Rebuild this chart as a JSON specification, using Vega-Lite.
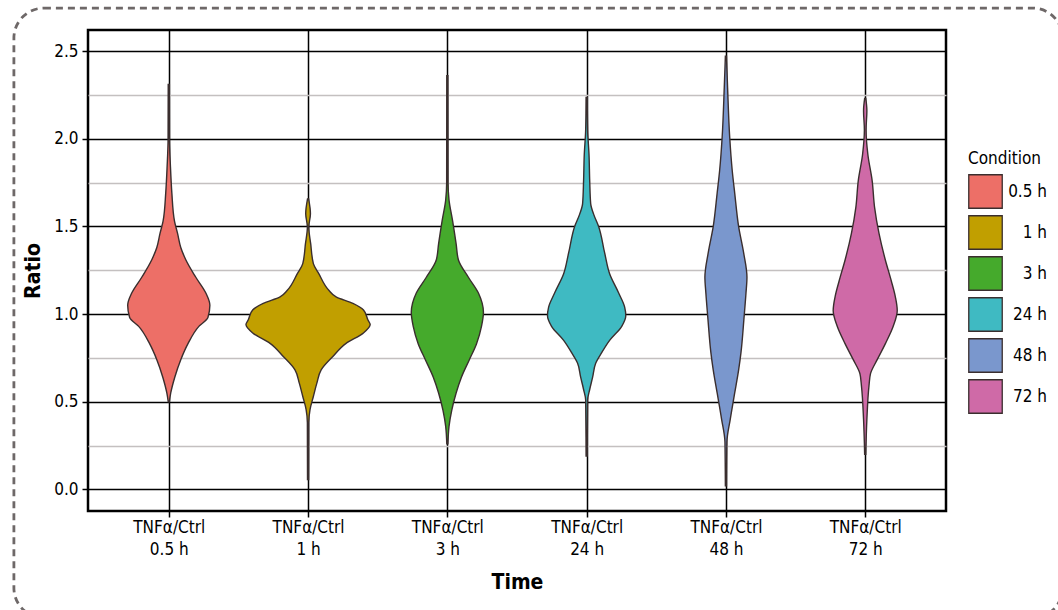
{
  "$schema": "https://vega.github.io/schema/vega-lite/v6.json",
  "width": 858,
  "height": 481,
  "autosize": "none",
  "padding": {"left": 88, "top": 30, "right": 112, "bottom": 99},
  "background": "white",
  "config": {
    "font": "DejaVu Sans Condensed, Roboto, sans-serif",
    "view": {"stroke": "black", "strokeWidth": 2.5},
    "axis": {"labelFont": "DejaVu Sans Condensed, Roboto, sans-serif", "titleFont": "DejaVu Sans Condensed, Roboto, sans-serif", "labelColor": "black", "titleColor": "black", "domain": false, "tickColor": "black", "tickWidth": 1.5},
    "legend": {"labelFont": "DejaVu Sans Condensed, Roboto, sans-serif", "titleFont": "DejaVu Sans Condensed, Roboto, sans-serif"}
  },
  "datasets": {
    "violins": [
      {"Condition": "0.5 h", "Ratio": 0.50, "density": 0.004},
      {"Condition": "0.5 h", "Ratio": 0.55, "density": 0.014},
      {"Condition": "0.5 h", "Ratio": 0.64, "density": 0.043},
      {"Condition": "0.5 h", "Ratio": 0.74, "density": 0.086},
      {"Condition": "0.5 h", "Ratio": 0.83, "density": 0.137},
      {"Condition": "0.5 h", "Ratio": 0.93, "density": 0.216},
      {"Condition": "0.5 h", "Ratio": 0.98, "density": 0.281},
      {"Condition": "0.5 h", "Ratio": 1.05, "density": 0.295},
      {"Condition": "0.5 h", "Ratio": 1.12, "density": 0.266},
      {"Condition": "0.5 h", "Ratio": 1.21, "density": 0.194},
      {"Condition": "0.5 h", "Ratio": 1.31, "density": 0.122},
      {"Condition": "0.5 h", "Ratio": 1.38, "density": 0.086},
      {"Condition": "0.5 h", "Ratio": 1.46, "density": 0.063},
      {"Condition": "0.5 h", "Ratio": 1.53, "density": 0.041},
      {"Condition": "0.5 h", "Ratio": 1.69, "density": 0.022},
      {"Condition": "0.5 h", "Ratio": 1.84, "density": 0.012},
      {"Condition": "0.5 h", "Ratio": 2.00, "density": 0.005},
      {"Condition": "0.5 h", "Ratio": 2.31, "density": 0.004},

      {"Condition": "1 h", "Ratio": 0.057, "density": 0.004},
      {"Condition": "1 h", "Ratio": 0.38, "density": 0.005},
      {"Condition": "1 h", "Ratio": 0.455, "density": 0.014},
      {"Condition": "1 h", "Ratio": 0.53, "density": 0.038},
      {"Condition": "1 h", "Ratio": 0.606, "density": 0.063},
      {"Condition": "1 h", "Ratio": 0.682, "density": 0.094},
      {"Condition": "1 h", "Ratio": 0.758, "density": 0.178},
      {"Condition": "1 h", "Ratio": 0.833, "density": 0.273},
      {"Condition": "1 h", "Ratio": 0.89, "density": 0.394},
      {"Condition": "1 h", "Ratio": 0.94, "density": 0.446},
      {"Condition": "1 h", "Ratio": 0.966, "density": 0.43},
      {"Condition": "1 h", "Ratio": 1.023, "density": 0.398},
      {"Condition": "1 h", "Ratio": 1.061, "density": 0.322},
      {"Condition": "1 h", "Ratio": 1.098, "density": 0.201},
      {"Condition": "1 h", "Ratio": 1.136, "density": 0.149},
      {"Condition": "1 h", "Ratio": 1.231, "density": 0.077},
      {"Condition": "1 h", "Ratio": 1.288, "density": 0.038},
      {"Condition": "1 h", "Ratio": 1.40, "density": 0.019},
      {"Condition": "1 h", "Ratio": 1.496, "density": 0.005},
      {"Condition": "1 h", "Ratio": 1.572, "density": 0.017},
      {"Condition": "1 h", "Ratio": 1.657, "density": 0.004},

      {"Condition": "3 h", "Ratio": 0.26, "density": 0.004},
      {"Condition": "3 h", "Ratio": 0.36, "density": 0.012},
      {"Condition": "3 h", "Ratio": 0.45, "density": 0.031},
      {"Condition": "3 h", "Ratio": 0.55, "density": 0.063},
      {"Condition": "3 h", "Ratio": 0.64, "density": 0.101},
      {"Condition": "3 h", "Ratio": 0.74, "density": 0.158},
      {"Condition": "3 h", "Ratio": 0.83, "density": 0.209},
      {"Condition": "3 h", "Ratio": 0.93, "density": 0.245},
      {"Condition": "3 h", "Ratio": 1.01, "density": 0.259},
      {"Condition": "3 h", "Ratio": 1.12, "density": 0.223},
      {"Condition": "3 h", "Ratio": 1.21, "density": 0.151},
      {"Condition": "3 h", "Ratio": 1.31, "density": 0.079},
      {"Condition": "3 h", "Ratio": 1.40, "density": 0.063},
      {"Condition": "3 h", "Ratio": 1.53, "density": 0.038},
      {"Condition": "3 h", "Ratio": 1.65, "density": 0.012},
      {"Condition": "3 h", "Ratio": 1.75, "density": 0.005},
      {"Condition": "3 h", "Ratio": 2.36, "density": 0.004},

      {"Condition": "24 h", "Ratio": 0.19, "density": 0.004},
      {"Condition": "24 h", "Ratio": 0.51, "density": 0.007},
      {"Condition": "24 h", "Ratio": 0.57, "density": 0.022},
      {"Condition": "24 h", "Ratio": 0.64, "density": 0.043},
      {"Condition": "24 h", "Ratio": 0.72, "density": 0.065},
      {"Condition": "24 h", "Ratio": 0.78, "density": 0.108},
      {"Condition": "24 h", "Ratio": 0.85, "density": 0.165},
      {"Condition": "24 h", "Ratio": 0.93, "density": 0.252},
      {"Condition": "24 h", "Ratio": 0.99, "density": 0.281},
      {"Condition": "24 h", "Ratio": 1.04, "density": 0.273},
      {"Condition": "24 h", "Ratio": 1.12, "density": 0.23},
      {"Condition": "24 h", "Ratio": 1.23, "density": 0.165},
      {"Condition": "24 h", "Ratio": 1.35, "density": 0.129},
      {"Condition": "24 h", "Ratio": 1.50, "density": 0.086},
      {"Condition": "24 h", "Ratio": 1.57, "density": 0.05},
      {"Condition": "24 h", "Ratio": 1.63, "density": 0.029},
      {"Condition": "24 h", "Ratio": 1.76, "density": 0.022},
      {"Condition": "24 h", "Ratio": 1.91, "density": 0.017},
      {"Condition": "24 h", "Ratio": 2.05, "density": 0.007},
      {"Condition": "24 h", "Ratio": 2.235, "density": 0.004},

      {"Condition": "48 h", "Ratio": 0.02, "density": 0.004},
      {"Condition": "48 h", "Ratio": 0.27, "density": 0.007},
      {"Condition": "48 h", "Ratio": 0.40, "density": 0.031},
      {"Condition": "48 h", "Ratio": 0.55, "density": 0.063},
      {"Condition": "48 h", "Ratio": 0.68, "density": 0.091},
      {"Condition": "48 h", "Ratio": 0.78, "density": 0.108},
      {"Condition": "48 h", "Ratio": 0.97, "density": 0.129},
      {"Condition": "48 h", "Ratio": 1.12, "density": 0.144},
      {"Condition": "48 h", "Ratio": 1.21, "density": 0.151},
      {"Condition": "48 h", "Ratio": 1.35, "density": 0.127},
      {"Condition": "48 h", "Ratio": 1.50, "density": 0.091},
      {"Condition": "48 h", "Ratio": 1.69, "density": 0.063},
      {"Condition": "48 h", "Ratio": 1.82, "density": 0.045},
      {"Condition": "48 h", "Ratio": 2.01, "density": 0.027},
      {"Condition": "48 h", "Ratio": 2.29, "density": 0.012},
      {"Condition": "48 h", "Ratio": 2.47, "density": 0.004},

      {"Condition": "72 h", "Ratio": 0.20, "density": 0.004},
      {"Condition": "72 h", "Ratio": 0.40, "density": 0.012},
      {"Condition": "72 h", "Ratio": 0.59, "density": 0.027},
      {"Condition": "72 h", "Ratio": 0.66, "density": 0.038},
      {"Condition": "72 h", "Ratio": 0.74, "density": 0.086},
      {"Condition": "72 h", "Ratio": 0.83, "density": 0.144},
      {"Condition": "72 h", "Ratio": 0.93, "density": 0.201},
      {"Condition": "72 h", "Ratio": 1.02, "density": 0.23},
      {"Condition": "72 h", "Ratio": 1.10, "density": 0.216},
      {"Condition": "72 h", "Ratio": 1.19, "density": 0.187},
      {"Condition": "72 h", "Ratio": 1.31, "density": 0.144},
      {"Condition": "72 h", "Ratio": 1.46, "density": 0.099},
      {"Condition": "72 h", "Ratio": 1.61, "density": 0.067},
      {"Condition": "72 h", "Ratio": 1.76, "density": 0.05},
      {"Condition": "72 h", "Ratio": 1.91, "density": 0.019},
      {"Condition": "72 h", "Ratio": 2.05, "density": 0.006},
      {"Condition": "72 h", "Ratio": 2.16, "density": 0.012},
      {"Condition": "72 h", "Ratio": 2.23, "density": 0.004}
    ]
  },
  "layer": [
    {
      "data": {"name": "violins"},
      "transform": [
        {"calculate": "indexof(['0.5 h','1 h','3 h','24 h','48 h','72 h'], datum.Condition) + 1", "as": "center"},
        {"calculate": "datum.center - datum.density", "as": "lo"},
        {"calculate": "datum.center + datum.density", "as": "hi"}
      ],
      "mark": {"type": "area", "orient": "horizontal", "interpolate": "monotone", "stroke": "#3a2e2e", "strokeWidth": 1.4, "fillOpacity": 1},
      "encoding": {
        "y": {
          "field": "Ratio", "type": "quantitative",
          "scale": {"domain": [-0.123, 2.62], "nice": false, "zero": false},
          "axis": {
            "title": "Ratio", "titleFontSize": 21, "titleFontWeight": "bold", "titlePadding": 10,
            "values": [0, 0.25, 0.5, 0.75, 1, 1.25, 1.5, 1.75, 2, 2.25, 2.5],
            "labelExpr": "datum.value % 0.5 == 0 ? format(datum.value, '.1f') : ''",
            "labelFontSize": 17, "labelPadding": 4, "tickSize": 6,
            "tickOpacity": {"condition": {"test": "datum.value % 0.5 != 0", "value": 0}, "value": 1},
            "grid": true,
            "gridColor": {"condition": {"test": "datum.value % 0.5 != 0", "value": "#c4c0c0"}, "value": "black"},
            "gridWidth": {"condition": {"test": "datum.value % 0.5 != 0", "value": 1.3}, "value": 1.6},
            "gridOpacity": 1
          }
        },
        "x": {
          "field": "lo", "type": "quantitative",
          "scale": {"domain": [0.42, 6.58], "nice": false, "zero": false},
          "axis": {
            "title": "Time", "titleFontSize": 21, "titleFontWeight": "bold", "titlePadding": 14,
            "values": [1, 2, 3, 4, 5, 6],
            "labelExpr": "['TNFα/Ctrl', ['0.5 h','1 h','3 h','24 h','48 h','72 h'][datum.value - 1]]",
            "labelFontSize": 17, "labelLineHeight": 22, "labelPadding": 2, "tickSize": 6,
            "grid": true, "gridColor": "black", "gridWidth": 1.5, "gridOpacity": 1
          }
        },
        "x2": {"field": "hi"},
        "color": {
          "field": "Condition", "type": "nominal",
          "scale": {
            "domain": ["0.5 h", "1 h", "3 h", "24 h", "48 h", "72 h"],
            "range": ["#ED6F67", "#C19F00", "#45AA2C", "#3FBAC2", "#7A97CD", "#CF6AA7"]
          },
          "legend": {
            "title": "Condition", "titleFontSize": 17, "titleFontWeight": "normal", "titleColor": "black", "titlePadding": 6,
            "orient": "none", "legendX": 880, "legendY": 121,
            "symbolType": "square", "symbolSize": 1120, "symbolStrokeColor": "#3a2e2e", "symbolStrokeWidth": 1.3, "symbolOpacity": 1,
            "labelFontSize": 17, "labelColor": "black", "labelAlign": "right", "labelOffset": 44, "labelLimit": 80,
            "rowPadding": 2
          }
        }
      }
    },
    {
      "data": {"values": [{}]},
      "mark": {"type": "rect", "fill": null, "filled": false, "stroke": "#6e6868", "strokeWidth": 2.8, "strokeDash": [7, 5], "cornerRadius": 30},
      "encoding": {
        "x": {"datum": -0.112, "type": "quantitative"},
        "x2": {"datum": 7.417},
        "y": {"datum": 2.745, "type": "quantitative"},
        "y2": {"datum": -0.733}
      }
    }
  ]
}
